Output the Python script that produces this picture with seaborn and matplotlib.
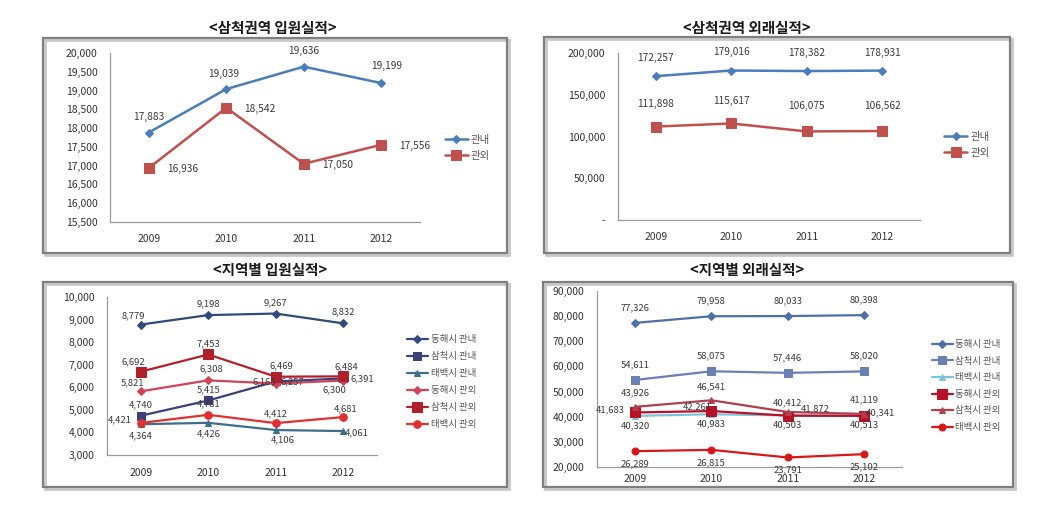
import matplotlib
matplotlib.use("Agg")
import matplotlib.pyplot as plt
import seaborn as sns
import pandas as pd
from matplotlib.patches import Rectangle
from matplotlib.ticker import FuncFormatter, FixedLocator

sns.set_theme(style="white")
plt.rcParams['font.family'] = ['Noto Sans CJK KR', 'DejaVu Sans']

years = ["2009", "2010", "2011", "2012"]

# Top-left: 삼척권역 입원실적
inpat_in = [17883, 19039, 19636, 19199]
inpat_out = [16936, 18542, 17050, 17556]
# Top-right: 삼척권역 외래실적
outpat_in = [172257, 179016, 178382, 178931]
outpat_out = [111898, 115617, 106075, 106562]

# Bottom-left: 지역별 입원실적
reg_names = ["동해시 관내", "삼척시 관내", "태백시 관내", "동해시 관외", "삼척시 관외", "태백시 관외"]
reg_inpat = {
    "동해시 관내": [8779, 9198, 9267, 8832],
    "삼척시 관내": [4740, 5415, 6257, 6391],
    "태백시 관내": [4364, 4426, 4106, 4061],
    "동해시 관외": [5821, 6308, 6165, 6300],
    "삼척시 관외": [6692, 7453, 6469, 6484],
    "태백시 관외": [4421, 4781, 4412, 4681],
}
# Bottom-right: 지역별 외래실적
reg_outpat = {
    "동해시 관내": [77326, 79958, 80033, 80398],
    "삼척시 관내": [54611, 58075, 57446, 58020],
    "태백시 관내": [40320, 40983, 40503, 40513],
    "동해시 관외": [41683, 42261, 40412, 40341],
    "삼척시 관외": [43926, 46541, 41872, 41119],
    "태백시 관외": [26289, 26815, 23791, 25102],
}

titles = ["<삼척권역 입원실적>", "<삼척권역 외래실적>", "<지역별 입원실적>", "<지역별 외래실적>"]

W, H = 1058, 509
fig = plt.figure(figsize=(W / 100, H / 100), dpi=100)
fig.patch.set_facecolor("white")


def px_axes(x0, y0, x1, y1):
    return fig.add_axes([x0 / W, 1 - y1 / H, (x1 - x0) / W, (y1 - y0) / H])


def frame(x0, y0, x1, y1):
    fig.patches.append(Rectangle((x0 / W + 0.002, 1 - y1 / H - 0.004), (x1 - x0) / W, (y1 - y0) / H,
                                 transform=fig.transFigure, fill=False, edgecolor="#c8c8c8", lw=2.0, zorder=0))
    fig.patches.append(Rectangle((x0 / W, 1 - y1 / H), (x1 - x0) / W, (y1 - y0) / H,
                                 transform=fig.transFigure, fill=False, edgecolor="#7f7f7f", lw=1.6, zorder=1))


def fmt(v, pos=None):
    if v == 0:
        return "-"
    return f"{int(v):,}"


def style_axes(ax, ylo, yhi, step, xpad=9):
    ax.set_xlim(-0.5, 3.5)
    ax.set_ylim(ylo, yhi)
    ax.yaxis.set_major_locator(FixedLocator(list(range(ylo, yhi + 1, step))))
    ax.yaxis.set_major_formatter(FuncFormatter(fmt))
    ax.set_xticks(range(4))
    ax.set_xticklabels(years)
    ax.set_xticks([-0.5, 0.5, 1.5, 2.5, 3.5], minor=True)
    ax.tick_params(axis="x", which="major", length=0, labelsize=7.5, colors="#333333", pad=xpad)
    ax.tick_params(axis="x", which="minor", length=3, color="#9a9a9a", direction="out")
    ax.tick_params(axis="y", which="major", length=3, color="#9a9a9a", labelsize=7.5,
                   colors="#333333", direction="out", pad=6)
    for s in ["top", "right"]:
        ax.spines[s].set_visible(False)
    for s in ["left", "bottom"]:
        ax.spines[s].set_color("#9a9a9a")
        ax.spines[s].set_linewidth(0.9)
    ax.set_xlabel("")
    ax.set_ylabel("")
    ax.grid(False)
    ax.set_facecolor("white")
    ax.patch.set_alpha(0)


def label(ax, i, v, dx, dy, ha="center", size=7.3):
    ax.annotate(f"{v:,}", (i, v), xytext=(dx, dy), textcoords="offset points",
                ha=ha, va="center", fontsize=size, color="#3a3a3a", zorder=5)


def draw(ax, vals, name, color, marker, ms, lw=1.8):
    df = pd.DataFrame({"year": years, "value": vals, "series": name})
    sns.lineplot(data=df, x="year", y="value", ax=ax, color=color, marker=marker,
                 markersize=ms, linewidth=lw, markeredgecolor=color, label=name, sort=False)


def legend(ax, anchor, fs, spacing):
    leg = ax.legend(loc="center left", bbox_to_anchor=anchor, frameon=False, fontsize=fs,
                    handlelength=2.2, handletextpad=0.3, labelspacing=spacing)
    for t in leg.get_texts():
        t.set_color("#555555")


blue = "#4a7ebb"
red = "#c0504d"

# ---------- top-left ----------
frame(43, 38, 507, 253)
ax1 = px_axes(110, 53, 420, 222)
draw(ax1, inpat_in, "관내", blue, "D", 4.5)
draw(ax1, inpat_out, "관외", red, "s", 7)
style_axes(ax1, 15500, 20000, 500)
offs = [(0, 11), (-2, 11), (0, 11), (4, 12)]
for i, v in enumerate(inpat_in):
    label(ax1, i, v, *offs[i])
for i, v in enumerate(inpat_out):
    label(ax1, i, v, 13, -1, ha="left")
legend(ax1, (1.05, 0.44), 7.5, 0.6)

# ---------- top-right ----------
frame(544, 37, 1010, 253)
ax2 = px_axes(618, 53, 920, 220)
draw(ax2, outpat_in, "관내", blue, "D", 4.5)
draw(ax2, outpat_out, "관외", red, "s", 7)
style_axes(ax2, 0, 200000, 50000)
for i, v in enumerate(outpat_in):
    label(ax2, i, v, 0, 13)
offs2 = [(0, 16), (0, 16), (0, 18), (0, 18)]
for i, v in enumerate(outpat_out):
    label(ax2, i, v, *offs2[i])
legend(ax2, (1.05, 0.45), 7.5, 0.6)

# ---------- bottom-left ----------
frame(43, 282, 507, 487)
ax3 = px_axes(107, 297, 377, 455)
styles_in = {
    "동해시 관내": ("#2f4b7c", "D", 4),
    "삼척시 관내": ("#3b3f7a", "s", 5.5),
    "태백시 관내": ("#3d6e8c", "^", 4.5),
    "동해시 관외": ("#d0435a", "D", 4.5),
    "삼척시 관외": ("#b0202a", "s", 6.5),
    "태백시 관외": ("#e03030", "o", 5.5),
}
for n in reg_names:
    c, m, s = styles_in[n]
    draw(ax3, reg_inpat[n], n, c, m, s, lw=1.6)
style_axes(ax3, 3000, 10000, 1000)
lab3 = {
    "동해시 관내": [(-5, 6, "center"), (0, 8, "center"), (0, 8, "center"), (0, 8, "center")],
    "삼척시 관내": [(0, 8, "center"), (0, 8, "center"), (12, 0, "center"), (14, 0, "center")],
    "태백시 관내": [(0, -8, "center"), (0, -8, "center"), (5, -7, "center"), (10, -1, "center")],
    "동해시 관외": [(-6, 6, "center"), (2, 8, "center"), (-8, 1, "center"), (-6, -7, "center")],
    "삼척시 관외": [(-5, 7, "center"), (0, 8, "center"), (4, 8, "center"), (2, 7, "center")],
    "태백시 관외": [(-15, 2, "center"), (0, 8, "center"), (0, 7, "center"), (2, 6, "center")],
}
for n in reg_names:
    for i, v in enumerate(reg_inpat[n]):
        dx, dy, ha = lab3[n][i]
        label(ax3, i, v, dx, dy, ha=ha, size=6.8)
legend(ax3, (1.08, 0.46), 6.8, 0.85)

# ---------- bottom-right ----------
frame(543, 282, 1013, 487)
ax4 = px_axes(597, 291, 902, 467)
styles_out = {
    "동해시 관내": ("#4f6fa8", "D", 4),
    "삼척시 관내": ("#6a80b4", "s", 6),
    "태백시 관내": ("#7cc3dc", "^", 4),
    "동해시 관외": ("#b81024", "s", 6.5),
    "삼척시 관외": ("#b04050", "^", 4.5),
    "태백시 관외": ("#d81818", "o", 5),
}
for n in reg_names:
    c, m, s = styles_out[n]
    draw(ax4, reg_outpat[n], n, c, m, s, lw=1.6)
style_axes(ax4, 20000, 90000, 10000, xpad=5)
lab4 = {
    "동해시 관내": [(0, 11, "center"), (0, 11, "center"), (0, 11, "center"), (0, 11, "center")],
    "삼척시 관내": [(0, 11, "center"), (0, 11, "center"), (0, 11, "center"), (0, 11, "center")],
    "태백시 관내": [(0, -7, "center"), (0, -7, "center"), (0, -7, "center"), (0, -7, "center")],
    "동해시 관외": [(-18, 2, "center"), (-10, 3, "center"), (0, 9, "center"), (12, 2, "center")],
    "삼척시 관외": [(0, 10, "center"), (0, 10, "center"), (20, 2, "center"), (0, 10, "center")],
    "태백시 관외": [(0, -9, "center"), (0, -9, "center"), (0, -9, "center"), (0, -9, "center")],
}
for n in reg_names:
    for i, v in enumerate(reg_outpat[n]):
        dx, dy, ha = lab4[n][i]
        label(ax4, i, v, dx, dy, ha=ha, size=6.8)
legend(ax4, (1.07, 0.46), 6.8, 0.8)

# ---------- titles ----------
for (tx, ty), t in zip([(273, 28), (747, 28), (270, 270), (747, 270)], titles):
    fig.text(tx / W, 1 - ty / H, t, ha="center", va="center", fontsize=10.5,
             fontweight="bold", color="#1a1a1a")

fig.savefig("out.png", dpi=100, facecolor="white")
